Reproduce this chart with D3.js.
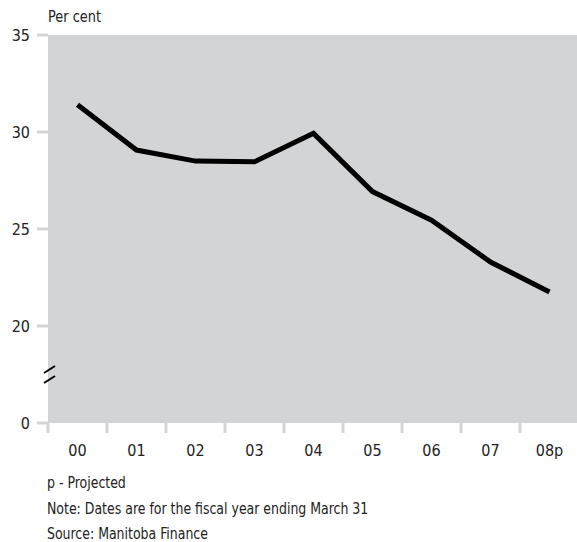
<!DOCTYPE html>
<html><head><meta charset="utf-8">
<script src="https://cdn.jsdelivr.net/npm/d3@7"></script>
<style>
body{margin:0;background:#fff;}
text{font-family:"DejaVu Sans Condensed",sans-serif;fill:#222;}
</style></head><body>
<svg id="c" width="577" height="542"></svg>
<script>
const categories = ["00","01","02","03","04","05","06","07","08p"];
const values = [31.4, 29.07, 28.5, 28.47, 29.93, 26.93, 25.45, 23.3, 21.75];
const yTicks = [0, 20, 25, 30, 35];
const notes = ["p - Projected","Note: Dates are for the fiscal year ending March 31","Source: Manitoba Finance"];

(function(){
const svg = d3.select("#c");
const pL = 48, pR = 579, pT = 35, pB = 423;
const gray = "#d3d4d6";

const x = d3.scaleBand().domain(categories).range([pL, pR]);
// broken axis: 0 -> 20 compressed to same height as 5 units
const y = d3.scaleLinear().domain([0, 20, 35]).range([pB, pB - 97, pT]);

svg.append("rect").attr("x", pL).attr("y", pT).attr("width", pR - pL).attr("height", pB - pT).attr("fill", gray);

const yg = svg.append("g");
yTicks.forEach(t => {
  yg.append("line").attr("x1", 37).attr("x2", pL).attr("y1", y(t)).attr("y2", y(t))
    .attr("stroke", gray).attr("stroke-width", 3);
  yg.append("text").attr("x", 30).attr("y", y(t)).attr("dy", "0.36em")
    .attr("text-anchor", "end").attr("font-size", 16).text(t);
});

const bounds = categories.map(c => x(c)).concat([x(categories[categories.length-1]) + x.bandwidth()]);
bounds.forEach(b => {
  svg.append("line").attr("x1", b).attr("x2", b).attr("y1", pB).attr("y2", pB + 10)
    .attr("stroke", gray).attr("stroke-width", 3);
});
categories.forEach(c => {
  svg.append("text").attr("x", x(c) + x.bandwidth()/2).attr("y", 456)
    .attr("text-anchor", "middle").attr("font-size", 16).text(c);
});

[0, 10].forEach(o => {
  svg.append("line").attr("x1", 44).attr("y1", 373 + o).attr("x2", 55).attr("y2", 366 + o)
    .attr("stroke", "#000").attr("stroke-width", 2);
});

const line = d3.line().x((d, i) => x(categories[i]) + x.bandwidth()/2).y(d => y(d));
svg.append("path").datum(values).attr("d", line).attr("fill", "none")
  .attr("stroke", "#000").attr("stroke-width", 5).attr("stroke-linejoin", "miter");

svg.append("text").attr("transform", "translate(48,22) scale(0.9,1)").attr("font-size", 16).text("Per cent");

notes.forEach((n, i) => {
  svg.append("text").attr("transform", `translate(47,${488 + i * 25.5}) scale(0.87,1)`)
    .attr("font-size", 16).text(n);
});
})();
</script>
</body></html>
